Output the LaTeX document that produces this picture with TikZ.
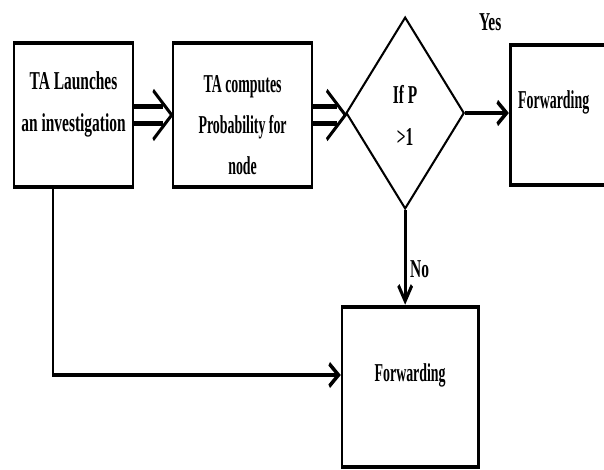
\documentclass[tikz,border=0pt]{standalone}
\usepackage{fontspec}
\setmainfont{Liberation Serif}
\newfontfamily\slimfont{Liberation Serif}[FakeStretch=0.9]
\usetikzlibrary{shapes.geometric,
arrows.meta,
positioning}
% open chevron that sits over the end of a double line
\pgfdeclarearrow{
  name = Hollow Barb,
  cache = false,
  setup code = {
    \pgfarrowssettipend{0pt}
    \pgfarrowssetlineend{-0.45\pgfarrowlength}
    \pgfarrowssavethe\pgfarrowlength
    \pgfarrowssavethe\pgfarrowwidth
    \pgfarrowsupperhullpoint{-\pgfarrowlength}{.5\pgfarrowwidth}
    \pgfarrowshullpoint{0pt}{0pt}
  },
  drawing code = {
    \pgfsetinnerlinewidth{0pt}
    \pgfsetlinewidth{2.8pt}
    \pgfsetmiterjoin
    \pgfpathmoveto{\pgfqpoint{-\pgfarrowlength}{.5\pgfarrowwidth}}
    \pgfpathlineto{\pgfqpoint{0pt}{0pt}}
    \pgfpathlineto{\pgfqpoint{-\pgfarrowlength}{-.5\pgfarrowwidth}}
    \pgfusepathqstroke
  },
  defaults = {length=22pt, width=35pt}
}
\tikzset{
  % heavy box for each step of the chart
  stepbox/.style={draw,rectangle,line width=3.2pt,inner sep=0pt,
    font=\bfseries\fontsize{18.3}{30}\selectfont,align=center},
  % the decision
  testbox/.style={draw,diamond,line width=2pt,inner sep=0pt,
    font=\bfseries\fontsize{18.3}{30}\selectfont,align=center},
  % hollow double arrow between two steps
  dbl arrow/.style={double,line width=3pt,double distance=9pt,
    -{Hollow Barb}},
  % plain open arrow
  flow arrow/.style={line width=3.2pt,-{Straight Barb[length=11pt,width=16pt]}},
  lbl/.style={font=\bfseries\fontsize{18.3}{30}\selectfont,inner sep=0pt},
}
\begin{document}
\begin{tikzpicture}[x=0.025cm,y=-0.025cm]
  \useasboundingbox (0,0) rectangle (604,469);
  \clip (0,0) rectangle (604,469);
  \begin{scope}[transform canvas={xscale=0.6},x=0.041667cm]
    \node[stepbox,minimum width=4.958cm,minimum height=3.6cm,
      text height=28.5pt,text depth=5pt] (launch) at (73.5,115)
      {TA Launches\\an investigation};
    \node[stepbox,minimum width=5.792cm,minimum height=3.6cm,
      font=\slimfont\bfseries\fontsize{18.3}{29}\selectfont,
      text height=89.5pt,text depth=5pt] (compute) at (242.5,115)
      {TA computes\\Probability for\\node};
    \node[testbox,minimum width=4.917cm,minimum height=4.8cm,
      text height=51.2pt,text depth=5pt] (check) at (405,113)
      {If P\\>1};
    \node[stepbox,minimum height=3.5cm,inner xsep=0.333cm,
      text width=4.333cm,align=left,
      font=\slimfont\bfseries\fontsize{18.3}{30}\selectfont,
      text height=12pt,text depth=21.2pt] (fwdyes) at (570,115)
      {Forwarding};
    \node[stepbox,minimum width=5.667cm,minimum height=4cm,
      font=\slimfont\bfseries\fontsize{18.3}{30}\selectfont,
      text height=12pt,text depth=19.8pt] (fwdno) at (410,387)
      {Forwarding};
    \node[lbl] (yes) at (490,22) {Yes};
    \coordinate (turn) at (53,375);

    \draw[dbl arrow] (launch.east) -- (compute.west);
    \draw[dbl arrow] (compute.east) -- (compute.east -| check.west);
    \draw[flow arrow] (check.east) -- (check.east -| fwdyes.west);
    \draw[flow arrow] (check.south) -- (check.south |- fwdno.north)
      node[lbl,pos=0.62,right=0.15cm] (no) {No};
    \draw[flow arrow] (launch.south -| turn) -- (turn) -- (turn -| fwdno.west);
  \end{scope}
\end{tikzpicture}
\end{document}
